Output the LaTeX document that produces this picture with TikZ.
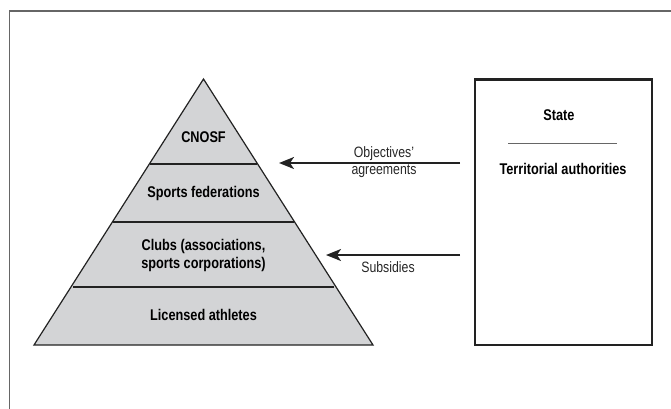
\documentclass[tikz,border=0pt]{standalone}
\usepackage{fontspec}
\setmainfont{Liberation Sans}[FakeStretch=0.82]
\usetikzlibrary{arrows.meta}
\definecolor{tierfill}{HTML}{D3D4D6}
\definecolor{inkdark}{HTML}{222222}
\begin{document}
\begin{tikzpicture}[x=1pt,y=-1pt,
  tier/.style={font=\fontsize{15.5}{18}\selectfont\bfseries, align=center, inner sep=0pt},
  flowlabel/.style={font=\fontsize{15}{17}\selectfont, align=center, inner sep=0pt, text=black!85},
  flow/.style={line width=2pt, draw=inkdark, -{Stealth[length=15pt,width=12pt,inset=4pt]}},
  edge/.style={line width=1.2pt, draw=inkdark}]
\useasboundingbox (0,0) rectangle (671,408);
% outer frame (only top and left edges fall inside the page)
\draw[line width=1.3pt, draw=black!60] (9.5,420) -- (9.5,11) -- (680,11);

% pyramid corners
\coordinate (apex) at (203.5,79);
\coordinate (bl) at (34,345);
\coordinate (br) at (373,345);
\fill[tierfill] (apex) -- (bl) -- (br) -- cycle;
% tier dividers
\draw[edge] (150,164) -- (257,164);
\draw[edge] (113,222) -- (294,222);
\draw[edge] (73,287) -- (334,287);
\draw[edge, line join=miter] (apex) -- (bl) -- (br) -- cycle;

\node[tier] (cnosf) at (203.5,137) {CNOSF};
\node[tier] (fed) at (203.5,193) {Sports federations};
\node[tier] (clubs) at (203.5,255) {Clubs (associations,\\sports corporations)};
\node[tier] (ath) at (203.5,315) {Licensed athletes};

% public authorities box
\draw[line width=2.6pt, draw=inkdark] (475,79.5) rectangle (652,345);
\node[tier] (state) at (559,115) {State};
\draw[line width=1pt, draw=black!60] (508,143) -- (617,143);
\node[tier] (terr) at (563,169) {Territorial authorities};

% flows from the authorities to the pyramid
\coordinate (o1) at (460,163);
\coordinate (t1) at (279,163);
\coordinate (o2) at (460,255);
\coordinate (t2) at (326,255);
\draw[flow] (o1) -- (t1);
\draw[flow] (o2) -- (t2);
\node[flowlabel] (agr) at (384,162.5) {Objectives'\\agreements};
\node[flowlabel] (sub) at (388,267) {Subsidies};
\end{tikzpicture}
\end{document}
